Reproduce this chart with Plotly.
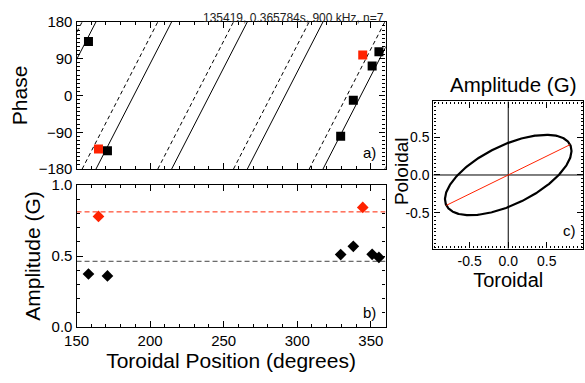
import numpy as np
import plotly.graph_objects as go

# ---- data ----
n_mode = 7
header = "135419, 0.365784s, 900 kHz, n=7"

black_pos = [158.1, 171.0, 329.5, 338.1, 350.9, 355.5]
black_phase = [132, -135, -100, -12, 72, 107]
black_amp = [0.374, 0.360, 0.510, 0.568, 0.512, 0.490]

red_pos = [164.9, 344.5]
red_phase = [-131, 99]
red_amp = [0.778, 0.841]

solid_x0 = 163.2   # toroidal position where fitted phase = -180 (solid)
dashed_x0 = 153.8  # toroidal position where fitted phase = -180 (dashed)

black_mean_amp = 0.463
red_mean_amp = 0.81

# polarisation ellipse parameters
amp_tor = 0.82
amp_pol = 0.53
phase_diff_deg = 53.0

FONT = "Liberation Sans"
TFS = 21

def sawtooth(x0):
    xs, ys = [], []
    per = 360.0 / n_mode
    for k in range(-3, 6):
        a = x0 + k * per
        b = a + per
        xs += [a, b, None]
        ys += [-180, 180, None]
    return xs, ys

fig = go.Figure()

sx, sy = sawtooth(solid_x0)
dx, dy = sawtooth(dashed_x0)
fig.add_trace(go.Scatter(x=sx, y=sy, mode="lines", line=dict(color="black", width=1),
                         xaxis="x", yaxis="y", showlegend=False))
fig.add_trace(go.Scatter(x=dx, y=dy, mode="lines", line=dict(color="black", width=1, dash="4px,3px"),
                         xaxis="x", yaxis="y", showlegend=False))
fig.add_trace(go.Scatter(x=black_pos, y=black_phase, mode="markers",
                         marker=dict(symbol="square", size=9, color="black"),
                         xaxis="x", yaxis="y", showlegend=False))
fig.add_trace(go.Scatter(x=red_pos, y=red_phase, mode="markers",
                         marker=dict(symbol="square", size=9, color="#ff2200"),
                         xaxis="x", yaxis="y", showlegend=False))

# amplitude panel
fig.add_trace(go.Scatter(x=[150, 360], y=[red_mean_amp] * 2, mode="lines",
                         line=dict(color="#ff2200", width=1, dash="5px,3px"),
                         xaxis="x2", yaxis="y2", showlegend=False))
fig.add_trace(go.Scatter(x=[150, 360], y=[black_mean_amp] * 2, mode="lines",
                         line=dict(color="#444444", width=1, dash="5px,3px"),
                         xaxis="x2", yaxis="y2", showlegend=False))
fig.add_trace(go.Scatter(x=black_pos, y=black_amp, mode="markers",
                         marker=dict(symbol="diamond", size=9, color="black"),
                         xaxis="x2", yaxis="y2", showlegend=False))
fig.add_trace(go.Scatter(x=red_pos, y=red_amp, mode="markers",
                         marker=dict(symbol="diamond", size=9, color="#ff2200"),
                         xaxis="x2", yaxis="y2", showlegend=False))

# ellipse panel
t = np.linspace(0, 2 * np.pi, 361)
phi = np.deg2rad(phase_diff_deg)
ex = amp_tor * np.cos(t)
ey = amp_pol * np.cos(t - phi)
r2 = ex ** 2 + ey ** 2
i = int(np.argmax(r2))
fig.add_trace(go.Scatter(x=[-1, 1], y=[0, 0], mode="lines", line=dict(color="black", width=1),
                         xaxis="x3", yaxis="y3", showlegend=False))
fig.add_trace(go.Scatter(x=[0, 0], y=[-1, 1], mode="lines", line=dict(color="black", width=1),
                         xaxis="x3", yaxis="y3", showlegend=False))
fig.add_trace(go.Scatter(x=ex, y=ey, mode="lines", line=dict(color="black", width=2.2),
                         xaxis="x3", yaxis="y3", showlegend=False))
fig.add_trace(go.Scatter(x=[ex[i], -ex[i]], y=[ey[i], -ey[i]], mode="lines",
                         line=dict(color="#ff2200", width=1),
                         xaxis="x3", yaxis="y3", showlegend=False))

ax_common = dict(showgrid=False, zeroline=False, ticks="inside", mirror="allticks",
                 showline=True, linecolor="black", linewidth=1.2, tickcolor="black",
                 ticklen=6, tickwidth=1, tickfont=dict(family=FONT, size=15, color="black"))

fig.update_layout(
    width=585, height=383, autosize=False,
    margin=dict(l=0, r=0, t=0, b=0),
    paper_bgcolor="white", plot_bgcolor="white",
    font=dict(family=FONT, color="black"),
    xaxis=dict(ax_common, domain=[0.1111, 0.6513], range=[150, 360], anchor="y",
               tickvals=[150, 200, 250, 300, 350], showticklabels=False,
               minor=dict(dtick=10, ticks="inside", ticklen=3, tickcolor="black")),
    yaxis=dict(ax_common, domain=[0.5627, 0.9648], range=[-180, 180], anchor="x",
               tickvals=[-180, -90, 0, 90, 180],
               minor=dict(dtick=10, ticks="inside", ticklen=3, tickcolor="black"),
               title=dict(text="Phase", font=dict(family=FONT, size=TFS), standoff=5)),
    xaxis2=dict(ax_common, domain=[0.1111, 0.6513], range=[150, 360], anchor="y2",
                tickvals=[150, 200, 250, 300, 350],
                minor=dict(dtick=10, ticks="inside", ticklen=3, tickcolor="black"),
                title=dict(text="Toroidal Position (degrees)", font=dict(family=FONT, size=TFS), standoff=2)),
    yaxis2=dict(ax_common, domain=[0.1305, 0.5196], range=[0, 1], anchor="x2",
                tickvals=[0, 0.5, 1], ticktext=["0.0", "0.5", "1.0"],
                minor=dict(dtick=0.1, ticks="inside", ticklen=3, tickcolor="black"),
                title=dict(text="Amplitude (G)", font=dict(family=FONT, size=TFS), standoff=5)),
    xaxis3=dict(ax_common, domain=[0.735, 0.9966], range=[-0.97, 0.97], anchor="y3",
                tickvals=[-0.5, 0, 0.5], ticktext=["-0.5", "0.0", "0.5"],
                tickfont=dict(family=FONT, size=14, color="black"),
                minor=dict(dtick=0.05, ticks="inside", ticklen=2, tickcolor="black"),
                title=dict(text="Toroidal", font=dict(family=FONT, size=20), standoff=2)),
    yaxis3=dict(ax_common, domain=[0.3454, 0.7475], range=[-0.97, 0.97], anchor="x3",
                tickvals=[-0.5, 0, 0.5], ticktext=["-0.5", "0.0", "0.5"],
                tickfont=dict(family=FONT, size=14, color="black"),
                minor=dict(dtick=0.05, ticks="inside", ticklen=2, tickcolor="black")),
    annotations=[
        dict(text=header, x=381 / 585, y=1 - 0 / 383, xref="paper", yref="paper",
             xanchor="right", yanchor="top", showarrow=False,
             font=dict(family=FONT, size=12, color="#222")),
        dict(text="a)", x=355, y=-140, xref="x", yref="y", xanchor="right", showarrow=False,
             font=dict(family=FONT, size=15)),
        dict(text="b)", x=355, y=0.1, xref="x2", yref="y2", xanchor="right", showarrow=False,
             font=dict(family=FONT, size=15)),
        dict(text="c)", x=0.9, y=-0.73, xref="x3", yref="y3", xanchor="right", showarrow=False,
             font=dict(family=FONT, size=15)),
        dict(text="Amplitude (G)", x=511 / 585, y=1 - 79 / 383, xref="paper", yref="paper",
             xanchor="center", yanchor="middle", showarrow=False,
             font=dict(family=FONT, size=20.5)),
        dict(text="Poloidal", x=397.5 / 585, y=1 - 170 / 383, xref="paper", yref="paper",
             xanchor="center", yanchor="middle", showarrow=False, textangle=-90,
             font=dict(family=FONT, size=19)),
    ],
)

fig.write_html("out.html")
